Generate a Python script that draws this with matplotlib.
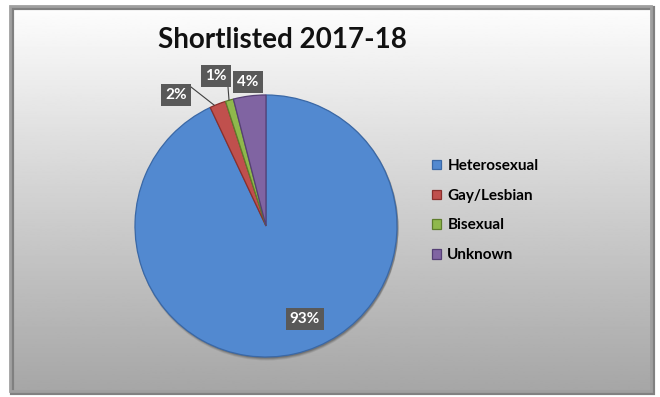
import matplotlib
matplotlib.use('Agg')
import matplotlib.pyplot as plt
import numpy as np
from matplotlib.patches import Rectangle, Circle

plt.rcParams['font.family'] = ['Lato', 'DejaVu Sans']

labels = ['Heterosexual', 'Gay/Lesbian', 'Bisexual', 'Unknown']
shares = [93, 2, 1, 4]
colors = ['#5289d0', '#c0504d', '#8fb84c', '#8064a2']
edges = ['#3a68a6', '#8a2f2c', '#5e7d2c', '#553f75']
title = 'Shortlisted 2017-18'

W, H = 660, 397
fig = plt.figure(figsize=(W / 100, H / 100), dpi=100)
ax = fig.add_axes([0, 0, 1, 1])
ax.set_xlim(0, W)
ax.set_ylim(0, H)
ax.axis('off')

# chart area: vertical gradient white -> grey inside a bevelled frame
x0, x1, y0, y1 = 10, 651, 6, 391
grad = np.linspace(0.70, 0.995, 256).reshape(-1, 1) ** 1.2
ax.imshow(grad, cmap='gray', vmin=0, vmax=1, extent=[x0, x1, y0, y1],
          origin='lower', aspect='auto', zorder=0)
ax.add_patch(Rectangle((x0 + 2, y0 - 2), x1 - x0, y1 - y0, fill=False,
                       edgecolor='#808080', linewidth=3, zorder=1))
ax.add_patch(Rectangle((x0, y0), x1 - x0, y1 - y0, fill=False,
                       edgecolor='#a0a0a0', linewidth=2, zorder=1))

# pie with a soft shadow underneath
cx, cy, r = 266, H - 226, 131
for k, a in [(3, 0.12), (2, 0.18), (1, 0.25)]:
    ax.add_patch(Circle((cx + 1, cy - k), r + 0.5, facecolor='#303030',
                        edgecolor='none', alpha=a, zorder=2))
explode = [0, 0.03, 0.03, 0.03]
wedges, _ = ax.pie(shares, colors=colors, startangle=90, counterclock=False,
                   center=(cx, cy), radius=r, explode=explode, frame=True,
                   wedgeprops=dict(linewidth=0.9))
for w, ec in zip(wedges, edges):
    w.set_edgecolor(ec)
    w.set_zorder(3)
ax.set_xlim(0, W)
ax.set_ylim(0, H)
ax.axis('off')

box = dict(boxstyle='square,pad=0.25', facecolor='#595959', edgecolor='none')
label_pos = [(305, H - 319), (176, H - 95), (216, H - 76), (248, H - 82)]
for (lx, ly), s in zip(label_pos, shares):
    ax.text(lx, ly, f'{s}%', color='white', fontsize=11, fontweight='bold',
            ha='center', va='center', bbox=box, zorder=6)

# leader lines for the two thin slices
ax.plot([191, 214], [H - 87, H - 105], color='#404040', lw=0.8, zorder=5)
ax.plot([228, 229], [H - 87, H - 100], color='#404040', lw=0.8, zorder=5)

ax.text(282, H - 48, title, fontsize=20, fontweight='bold', ha='center',
        va='baseline', color='#111111', zorder=6)

ax.legend(wedges, labels, loc='upper left', bbox_to_anchor=(432, H - 159),
          bbox_transform=ax.transData, frameon=False,
          prop=dict(size=11, weight='bold'), handlelength=0.6,
          handleheight=0.6, handletextpad=0.4, labelspacing=1.03,
          borderaxespad=0, borderpad=0)

fig.savefig('out.png', dpi=100, facecolor='white')
